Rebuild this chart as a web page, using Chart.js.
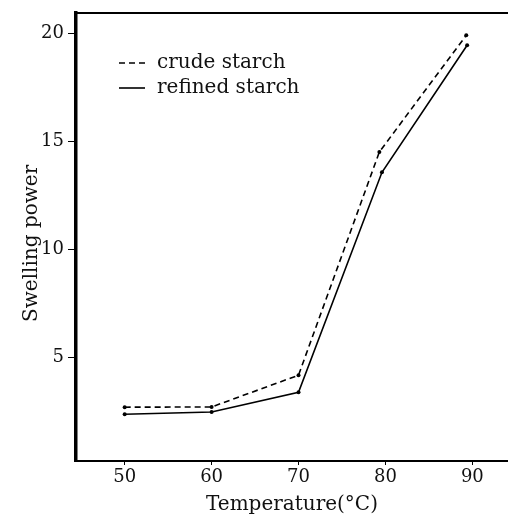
<!DOCTYPE html>
<html>
<head>
<meta charset="utf-8">
<script src="https://cdn.jsdelivr.net/npm/chart.js@4"></script>
<style>
  html, body { margin: 0; padding: 0; background: #fff; overflow: hidden; }
  #wrap { width: 508px; height: 517px; }
  canvas { display: block; }
</style>
</head>
<body>
<div id="wrap"><canvas id="myChart" width="508" height="517"></canvas></div>
<script>
// Data
const crudeTemp = [50, 60, 70, 79.3, 89.3];
const crudeSwelling = [2.69, 2.7, 4.17, 14.5, 19.9];
const refinedTemp = [50, 60, 70, 79.6, 89.4];
const refinedSwelling = [2.36, 2.47, 3.38, 13.56, 19.44];
const xTicks = [50, 60, 70, 80, 90];
const yTicks = [5, 10, 15, 20];

const serif = "'DejaVu Serif', 'Liberation Serif', serif";

function toPoints(xs, ys) {
    return xs.map((x, i) => ({ x: x, y: ys[i] }));
}

// legend inside the plot + top frame line
const frameAndLegend = {
    id: 'frameAndLegend',
    afterDatasetsDraw(chart) {
        const ctx = chart.ctx;
        const area = chart.chartArea;
        ctx.save();
        ctx.strokeStyle = '#000';
        ctx.lineWidth = 2;
        ctx.beginPath();
        ctx.moveTo(area.left - 1, area.top);
        ctx.lineTo(area.right, area.top);
        ctx.stroke();

        ctx.font = '20px ' + serif;
        ctx.fillStyle = '#111';
        ctx.textBaseline = 'middle';
        chart.data.datasets.forEach((ds, i) => {
            const y = 63 + i * 25;
            ctx.setLineDash(ds.borderDash || []);
            ctx.lineWidth = ds.borderWidth;
            ctx.beginPath();
            ctx.moveTo(119, y);
            ctx.lineTo(145, y);
            ctx.stroke();
            ctx.setLineDash([]);
            ctx.fillText(ds.label, 157, y);
        });
        ctx.restore();
    }
};

const ctx = document.getElementById('myChart').getContext('2d');
const chart = new Chart(ctx, {
    type: 'line',
    data: {
        datasets: [{
            label: 'crude starch',
            data: toPoints(crudeTemp, crudeSwelling),
            borderColor: '#000',
            backgroundColor: '#000',
            borderWidth: 1.6,
            borderDash: [6, 4],
            pointRadius: 2,
            pointBorderWidth: 0,
            tension: 0
        }, {
            label: 'refined starch',
            data: toPoints(refinedTemp, refinedSwelling),
            borderColor: '#000',
            backgroundColor: '#000',
            borderWidth: 1.6,
            pointRadius: 2,
            pointBorderWidth: 0,
            tension: 0
        }]
    },
    options: {
        responsive: false,
        animation: false,
        layout: { autoPadding: false, padding: { top: 13, right: 0, left: 0, bottom: 0 } },
        plugins: {
            legend: { display: false },
            tooltip: { enabled: false }
        },
        scales: {
            x: {
                type: 'linear',
                min: 44.4,
                max: 94.1,
                afterFit(scale) {
                    scale.height = 56;
                    scale.paddingLeft = 0;
                    scale.paddingRight = 0;
                },
                afterBuildTicks(scale) { scale.ticks = xTicks.map(v => ({ value: v })); },
                border: { display: true, color: '#000', width: 2 },
                grid: { display: true, drawOnChartArea: false, drawTicks: true, tickLength: 4, color: '#000', lineWidth: 1 },
                ticks: { color: '#111', padding: 2, maxRotation: 0, font: { family: serif, size: 18 } },
                title: {
                    display: true,
                    text: 'Temperature(°C)',
                    color: '#111',
                    font: { family: serif, size: 20, lineHeight: 1.2 },
                    padding: { top: 0, bottom: 0 }
                }
            },
            y: {
                min: 0.2,
                max: 20.93,
                afterFit(scale) {
                    scale.width = 76;
                    scale.paddingTop = 0;
                    scale.paddingBottom = 0;
                },
                afterBuildTicks(scale) { scale.ticks = yTicks.map(v => ({ value: v })); },
                border: { display: true, color: '#000', width: 3.5 },
                grid: { display: true, drawOnChartArea: false, drawTicks: true, tickLength: 8, color: '#000', lineWidth: 1 },
                ticks: { color: '#111', padding: 4, font: { family: serif, size: 18 } },
                title: {
                    display: true,
                    text: 'Swelling power  ',
                    color: '#111',
                    font: { family: serif, size: 20, lineHeight: 1.2 },
                    padding: { top: 20, bottom: 0 }
                }
            }
        }
    },
    plugins: [frameAndLegend]
});
</script>
</body>
</html>
